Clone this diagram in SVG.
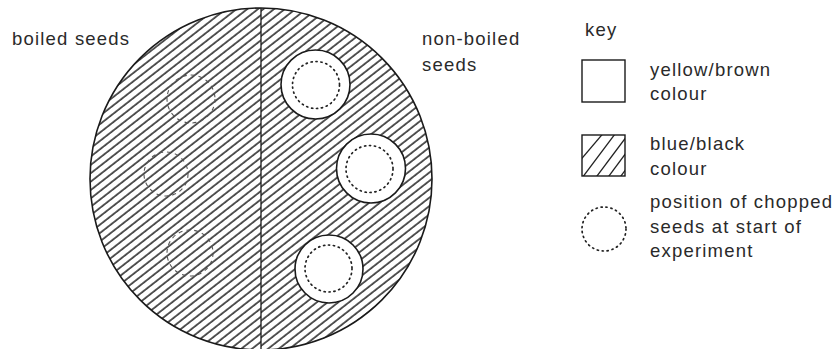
<svg xmlns="http://www.w3.org/2000/svg" width="836" height="349" viewBox="0 0 836 349">
  <defs>
    <pattern id="hatchL" patternUnits="userSpaceOnUse" width="6.6" height="10" patternTransform="rotate(52)">
      <line x1="1" y1="0" x2="1" y2="10" stroke="#222" stroke-width="1.5"/>
    </pattern>
    <pattern id="hatchR" patternUnits="userSpaceOnUse" width="6.6" height="10" patternTransform="rotate(52) translate(3.3 0)">
      <line x1="1" y1="0" x2="1" y2="10" stroke="#222" stroke-width="1.5"/>
    </pattern>
    <clipPath id="leftHalf"><rect x="80" y="0" width="181" height="349"/></clipPath>
    <clipPath id="rightHalf"><rect x="261" y="0" width="181" height="349"/></clipPath>
    <clipPath id="keyBox"><rect x="582" y="135" width="43" height="41"/></clipPath>
  </defs>
  <style>
    .lbl { font-family: "Liberation Sans", Arial, sans-serif; font-size: 18.5px; letter-spacing: 1.2px; fill: #2a2a2a; }
    .outline { fill: none; stroke: #1a1a1a; stroke-width: 1.6; }
    .hole { fill: #fff; stroke: #1a1a1a; stroke-width: 1.6; }
    .dotted { fill: none; stroke: #222; stroke-width: 1.7; stroke-dasharray: 1.2 3.8; stroke-linecap: round; }
    .dashed { fill: none; stroke: #555; stroke-width: 1.1; stroke-dasharray: 4 4; }
  </style>

  <g id="dish">
    <circle cx="261" cy="179" r="171" fill="url(#hatchL)" clip-path="url(#leftHalf)"/>
    <circle cx="261" cy="179" r="171" fill="url(#hatchR)" clip-path="url(#rightHalf)"/>
    <circle class="outline" cx="261" cy="179" r="171"/>
    <line x1="261" y1="8" x2="261" y2="349" stroke="#1a1a1a" stroke-width="1.3"/>
  </g>

  <g id="boiled-seeds">
    <circle class="dashed" cx="191" cy="99" r="24"/>
    <circle class="dashed" cx="166" cy="174" r="22"/>
    <circle class="dashed" cx="190" cy="253" r="23"/>
  </g>

  <g id="nonboiled-seed-1">
    <circle class="hole" cx="315.5" cy="84.5" r="34.5"/>
    <circle class="dotted" cx="316" cy="85" r="23.5"/>
  </g>
  <g id="nonboiled-seed-2">
    <circle class="hole" cx="371" cy="168.5" r="34.5"/>
    <circle class="dotted" cx="369.5" cy="169" r="23.5"/>
  </g>
  <g id="nonboiled-seed-3">
    <circle class="hole" cx="329" cy="269" r="34"/>
    <circle class="dotted" cx="328.5" cy="268.5" r="23.5"/>
  </g>

  <g id="labels">
    <text class="lbl" x="12" y="45">boiled seeds</text>
    <text class="lbl" x="422" y="45">non-boiled</text>
    <text class="lbl" x="422" y="71">seeds</text>
  </g>

  <g id="key">
    <text class="lbl" x="585" y="36">key</text>
    <g id="key-yellow">
      <rect x="582" y="60" width="43" height="42" fill="#fff" stroke="#1a1a1a" stroke-width="1.4"/>
      <text class="lbl" x="650" y="76">yellow/brown</text>
      <text class="lbl" x="650" y="100">colour</text>
    </g>
    <g id="key-blue">
      <g clip-path="url(#keyBox)" stroke="#222" stroke-width="1.3">
        <line x1="572" y1="170" x2="606" y2="130"/>
        <line x1="582" y1="178" x2="618" y2="130"/>
        <line x1="594" y1="180" x2="630" y2="132"/>
        <line x1="606" y1="180" x2="640" y2="134"/>
        <line x1="618" y1="180" x2="652" y2="134"/>
      </g>
      <rect x="582" y="135" width="43" height="41" fill="none" stroke="#1a1a1a" stroke-width="1.4"/>
      <text class="lbl" x="650" y="150">blue/black</text>
      <text class="lbl" x="650" y="175">colour</text>
    </g>
    <g id="key-start">
      <circle class="dotted" cx="604" cy="229" r="22" stroke="#444"/>
      <text class="lbl" x="650" y="208">position of chopped</text>
      <text class="lbl" x="650" y="233">seeds at start of</text>
      <text class="lbl" x="650" y="257">experiment</text>
    </g>
  </g>
</svg>
